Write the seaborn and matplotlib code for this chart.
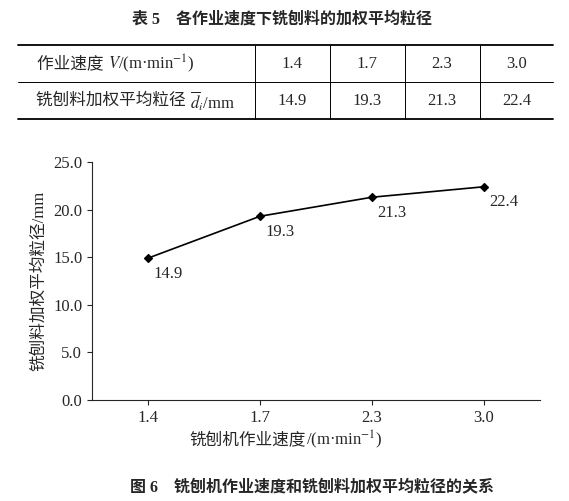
import matplotlib
matplotlib.use("Agg")
import matplotlib.pyplot as plt
import seaborn as sns
import pandas as pd

speeds = ["1.4", "1.7", "2.3", "3.0"]
sizes = [14.9, 19.3, 21.3, 22.4]

sns.set_style("ticks")
plt.rcParams["font.family"] = ["Liberation Serif", "Noto Sans CJK SC"]
plt.rcParams["mathtext.fontset"] = "stix"

W, H = 569, 501
fig = plt.figure(figsize=(W / 100, H / 100), dpi=100)

def fx(x):
    return x / W

def fy(y):
    return 1 - y / H

# table
fig.text(fx(282), fy(20), "表 5    各作业速度下铣刨料的加权平均粒径", ha="center", va="center",
         fontsize=11.5, fontweight="bold")
for y, lw in [(45, 1.3), (82, 0.7), (119, 1.3)]:
    fig.add_artist(plt.Line2D([fx(18), fx(553)], [fy(y), fy(y)], color="black", lw=lw))
for x in [255, 330, 405, 480]:
    fig.add_artist(plt.Line2D([fx(x), fx(x)], [fy(45), fy(119)], color="black", lw=0.7))
fig.text(fx(108), fy(64), "作业速度 ", ha="right", va="center", fontsize=12)
fig.text(fx(108), fy(64), "$V$/(m·min$^{-1}$)", ha="left", va="center", fontsize=12)
fig.text(fx(190), fy(101), "铣刨料加权平均粒径 ", ha="right", va="center", fontsize=12)
fig.text(fx(190), fy(101), "$\\overline{d}_i$/mm", ha="left", va="center", fontsize=12)
cols = [292, 367, 442, 517]
for x, s, v in zip(cols, speeds, sizes):
    fig.text(fx(x), fy(64), s, ha="center", va="center", fontsize=12)
    fig.text(fx(x), fy(101), f"{v:.1f}", ha="center", va="center", fontsize=12)

# chart
ax = fig.add_axes([fx(92), fy(400), fx(540) - fx(92), fy(162) - fy(400)])
df = pd.DataFrame({"speed": speeds, "size": sizes})
sns.pointplot(data=df, x="speed", y="size", color="black", markers="D",
              markersize=4, linewidth=1.2, ax=ax)
for i, v in enumerate(sizes):
    ax.annotate(f"{v:.1f}", (i, v), xytext=(4, -14), textcoords="offset points", fontsize=12)
ax.set_xlim(-0.5, 3.5)
ax.set_ylim(0, 25)
ax.set_yticks([0, 5, 10, 15, 20, 25])
ax.set_yticklabels([f"{t:.1f}" for t in [0, 5, 10, 15, 20, 25]], fontsize=12)
ax.tick_params(axis="x", labelsize=12)
ax.set_xlabel("")
ax.set_ylabel("铣刨料加权平均粒径/mm", fontsize=12)
sns.despine(ax=ax)

fig.text(fx(306), fy(440), "铣刨机作业速度", ha="right", va="center", fontsize=12)
fig.text(fx(306), fy(440), "/(m·min$^{-1}$)", ha="left", va="center", fontsize=12)

fig.text(fx(312), fy(487), "图 6    铣刨机作业速度和铣刨料加权平均粒径的关系", ha="center", va="center",
         fontsize=11.5, fontweight="bold")

fig.savefig("out.png", dpi=100)
